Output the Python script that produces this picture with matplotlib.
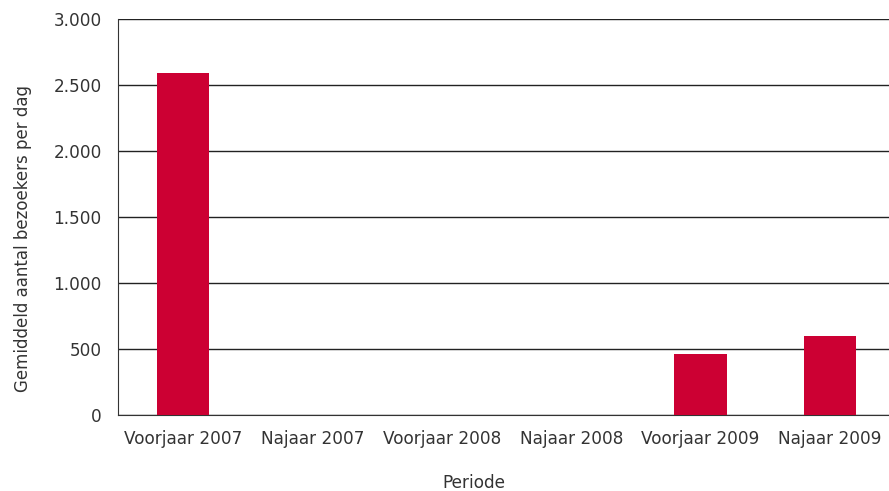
import matplotlib
matplotlib.use("Agg")
import matplotlib.pyplot as plt
from matplotlib.ticker import FuncFormatter

categories = ["Voorjaar 2007", "Najaar 2007", "Voorjaar 2008", "Najaar 2008", "Voorjaar 2009", "Najaar 2009"]
values = [2590, 0, 0, 0, 465, 600]
yticks = [0, 500, 1000, 1500, 2000, 2500, 3000]

plt.rcParams['font.family'] = ['DejaVu Sans']
W, H = 889, 491
fig = plt.figure(figsize=(W / 100, H / 100), dpi=100)
ax_left, ax_right, ax_top, ax_bottom = 118.3, 894.7, 19, 415
ax = fig.add_axes([ax_left / W, (H - ax_bottom) / H, (ax_right - ax_left) / W, (ax_bottom - ax_top) / H])

x = range(len(categories))
ax.bar(x, values, width=0.405, color="#CC0033", zorder=3)
ax.set_xlim(-0.5, len(categories) - 0.5)
ax.set_ylim(0, 3000)
ax.set_yticks(yticks)
ax.yaxis.set_major_formatter(FuncFormatter(lambda v, p: f"{int(v):,}".replace(",", ".")))
ax.set_xticks(list(x))
ax.set_xticklabels(categories)
ax.grid(axis="y", color="#222222", linewidth=1.0, zorder=0)
for s in ["top", "right"]:
    ax.spines[s].set_visible(False)
ax.spines["left"].set_color("#333333")
ax.spines["bottom"].set_color("#333333")
fs = 12.2
ax.tick_params(axis="y", length=0, labelsize=fs, colors="#333333", pad=12)
ax.tick_params(axis="x", length=0, labelsize=fs, colors="#333333", pad=11)
ax.set_ylabel("Gemiddeld aantal bezoekers per dag", fontsize=fs * 0.98, color="#333333")
ax.set_xlabel("Periode", fontsize=fs, color="#333333")
ax.yaxis.set_label_coords((23 - ax_left) / (ax_right - ax_left), (ax_bottom - 239) / (ax_bottom - ax_top))
ax.yaxis.label.set_verticalalignment("center")
ax.yaxis.label.set_horizontalalignment("center")
ax.xaxis.set_label_coords((474 - ax_left) / (ax_right - ax_left), (ax_bottom - 483) / (ax_bottom - ax_top))
ax.xaxis.label.set_verticalalignment("center")

fig.savefig("out.png", dpi=100)
